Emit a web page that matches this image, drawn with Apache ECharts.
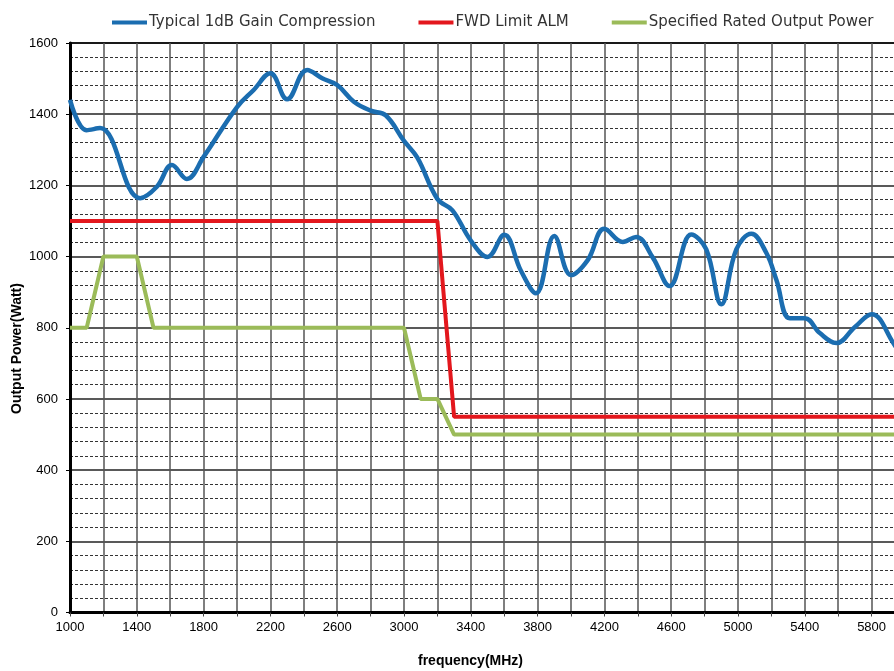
<!DOCTYPE html>
<html>
<head>
<meta charset="utf-8">
<script src="https://cdn.jsdelivr.net/npm/echarts@6/dist/echarts.min.js"></script>
<style>html,body{margin:0;padding:0;background:#fff}#c{width:894px;height:671px}</style>
</head>
<body>
<div id="c"></div>
<script>
var seriesNames = ['Typical 1dB Gain Compression', 'FWD Limit ALM', 'Specified Rated Output Power'];
var xTickLabels = [1000, 1400, 1800, 2200, 2600, 3000, 3400, 3800, 4200, 4600, 5000, 5400, 5800];
var yTickLabels = [0, 200, 400, 600, 800, 1000, 1200, 1400, 1600];

var gainFreq = [1000,1100,1180,1420,1520,1610,1700,1800,2000,2100,2200,2300,2420,2510,2600,2700,2800,2890,3000,3080,3200,3290,3400,3500,3600,3700,3790,3900,4000,4100,4200,4310,4390,4490,4590,4720,4810,4900,4990,5080,5170,5230,5310,5400,5490,5590,5700,5800,5930,6000];
var gainPower = [1440,1355,1361,1164,1196,1257,1218,1280,1420,1468,1515,1442,1524,1501,1482,1435,1410,1397,1325,1278,1162,1130,1045,999,1061,960,897,1058,948,990,1078,1041,1055,997,917,1062,1020,866,1020,1064,1010,934,827,827,785,757,802,838,757,700];

var fwdFreq = [1000, 3200, 3300, 6000];
var fwdPower = [1100, 1100, 550, 550];

var ratedFreq = [1000, 1100, 1200, 1400, 1500, 3000, 3100, 3200, 3300, 6000];
var ratedPower = [800, 800, 1000, 1000, 800, 800, 600, 600, 500, 500];

function pairs(xs, ys) { return xs.map(function (x, i) { return [x, ys[i]]; }); }

var chart = echarts.init(document.getElementById('c'), null, {renderer: 'canvas'});
var labelFont = 'Liberation Sans, Arial, sans-serif';
chart.setOption({
  animation: false,
  backgroundColor: '#fff',
  legend: {
    top: 15, left: 112, padding: 0,
    itemWidth: 35, itemHeight: 4, itemGap: 43,
    icon: 'rect',
    textStyle: {fontFamily: 'DejaVu Sans, sans-serif', fontSize: 15, color: '#333', padding: [0, 0, 0, -3]},
    data: seriesNames
  },
  grid: {
    left: 70, top: 43, width: 835, height: 569.5,
    outerBoundsMode: 'none', containLabel: false,
    show: true, borderColor: '#000', borderWidth: 2, backgroundColor: 'transparent'
  },
  xAxis: {
    type: 'value', min: 1000, max: 6000, interval: 200,
    axisLine: {show: true, onZero: false, lineStyle: {color: '#000', width: 3}},
    axisTick: {show: true, length: 4, lineStyle: {color: '#444', width: 1}},
    axisLabel: {
      margin: 8, color: '#000', fontFamily: labelFont, fontSize: 13,
      formatter: function (v) { return xTickLabels.indexOf(v) >= 0 ? String(v) : ''; }
    },
    splitLine: {show: true, lineStyle: {color: '#555', width: 1.5}}
  },
  yAxis: {
    type: 'value', min: 0, max: 1600, interval: 200,
    axisLine: {show: true, lineStyle: {color: '#000', width: 3}},
    axisTick: {show: true, length: 4, lineStyle: {color: '#000'}},
    axisLabel: {
      margin: 12, color: '#000', fontFamily: labelFont, fontSize: 13,
      formatter: function (v) { return yTickLabels.indexOf(v) >= 0 ? String(v) : ''; }
    },
    splitLine: {show: true, lineStyle: {color: '#222', width: 1.5}},
    minorTick: {show: false, splitNumber: 5},
    minorSplitLine: {show: true, lineStyle: {color: '#333', width: 1, type: [3, 2]}}
  },
  graphic: [
    {type: 'text', left: 418, top: 654, style: {text: 'frequency(MHz)', fontFamily: labelFont, fontWeight: 'bold', fontSize: 14, fill: '#000'}},
    {type: 'text', x: 10, y: 414, rotation: Math.PI / 2, style: {text: 'Output Power(Watt)', fontFamily: labelFont, fontWeight: 'bold', fontSize: 14, fill: '#000', textAlign: 'left', textVerticalAlign: 'top'}}
  ],
  series: [
    {name: seriesNames[0], type: 'line', data: pairs(gainFreq, gainPower), smooth: 0.4, showSymbol: false, symbol: 'none',
      lineStyle: {color: '#1b6db0', width: 4.5}, itemStyle: {color: '#1b6db0'}, z: 4},
    {name: seriesNames[1], type: 'line', data: pairs(fwdFreq, fwdPower), showSymbol: false, symbol: 'none',
      lineStyle: {color: '#e3171d', width: 4}, itemStyle: {color: '#e3171d'}, z: 3},
    {name: seriesNames[2], type: 'line', data: pairs(ratedFreq, ratedPower), showSymbol: false, symbol: 'none',
      lineStyle: {color: '#9bbb59', width: 4}, itemStyle: {color: '#9bbb59'}, z: 2}
  ]
});
</script>
</body>
</html>
